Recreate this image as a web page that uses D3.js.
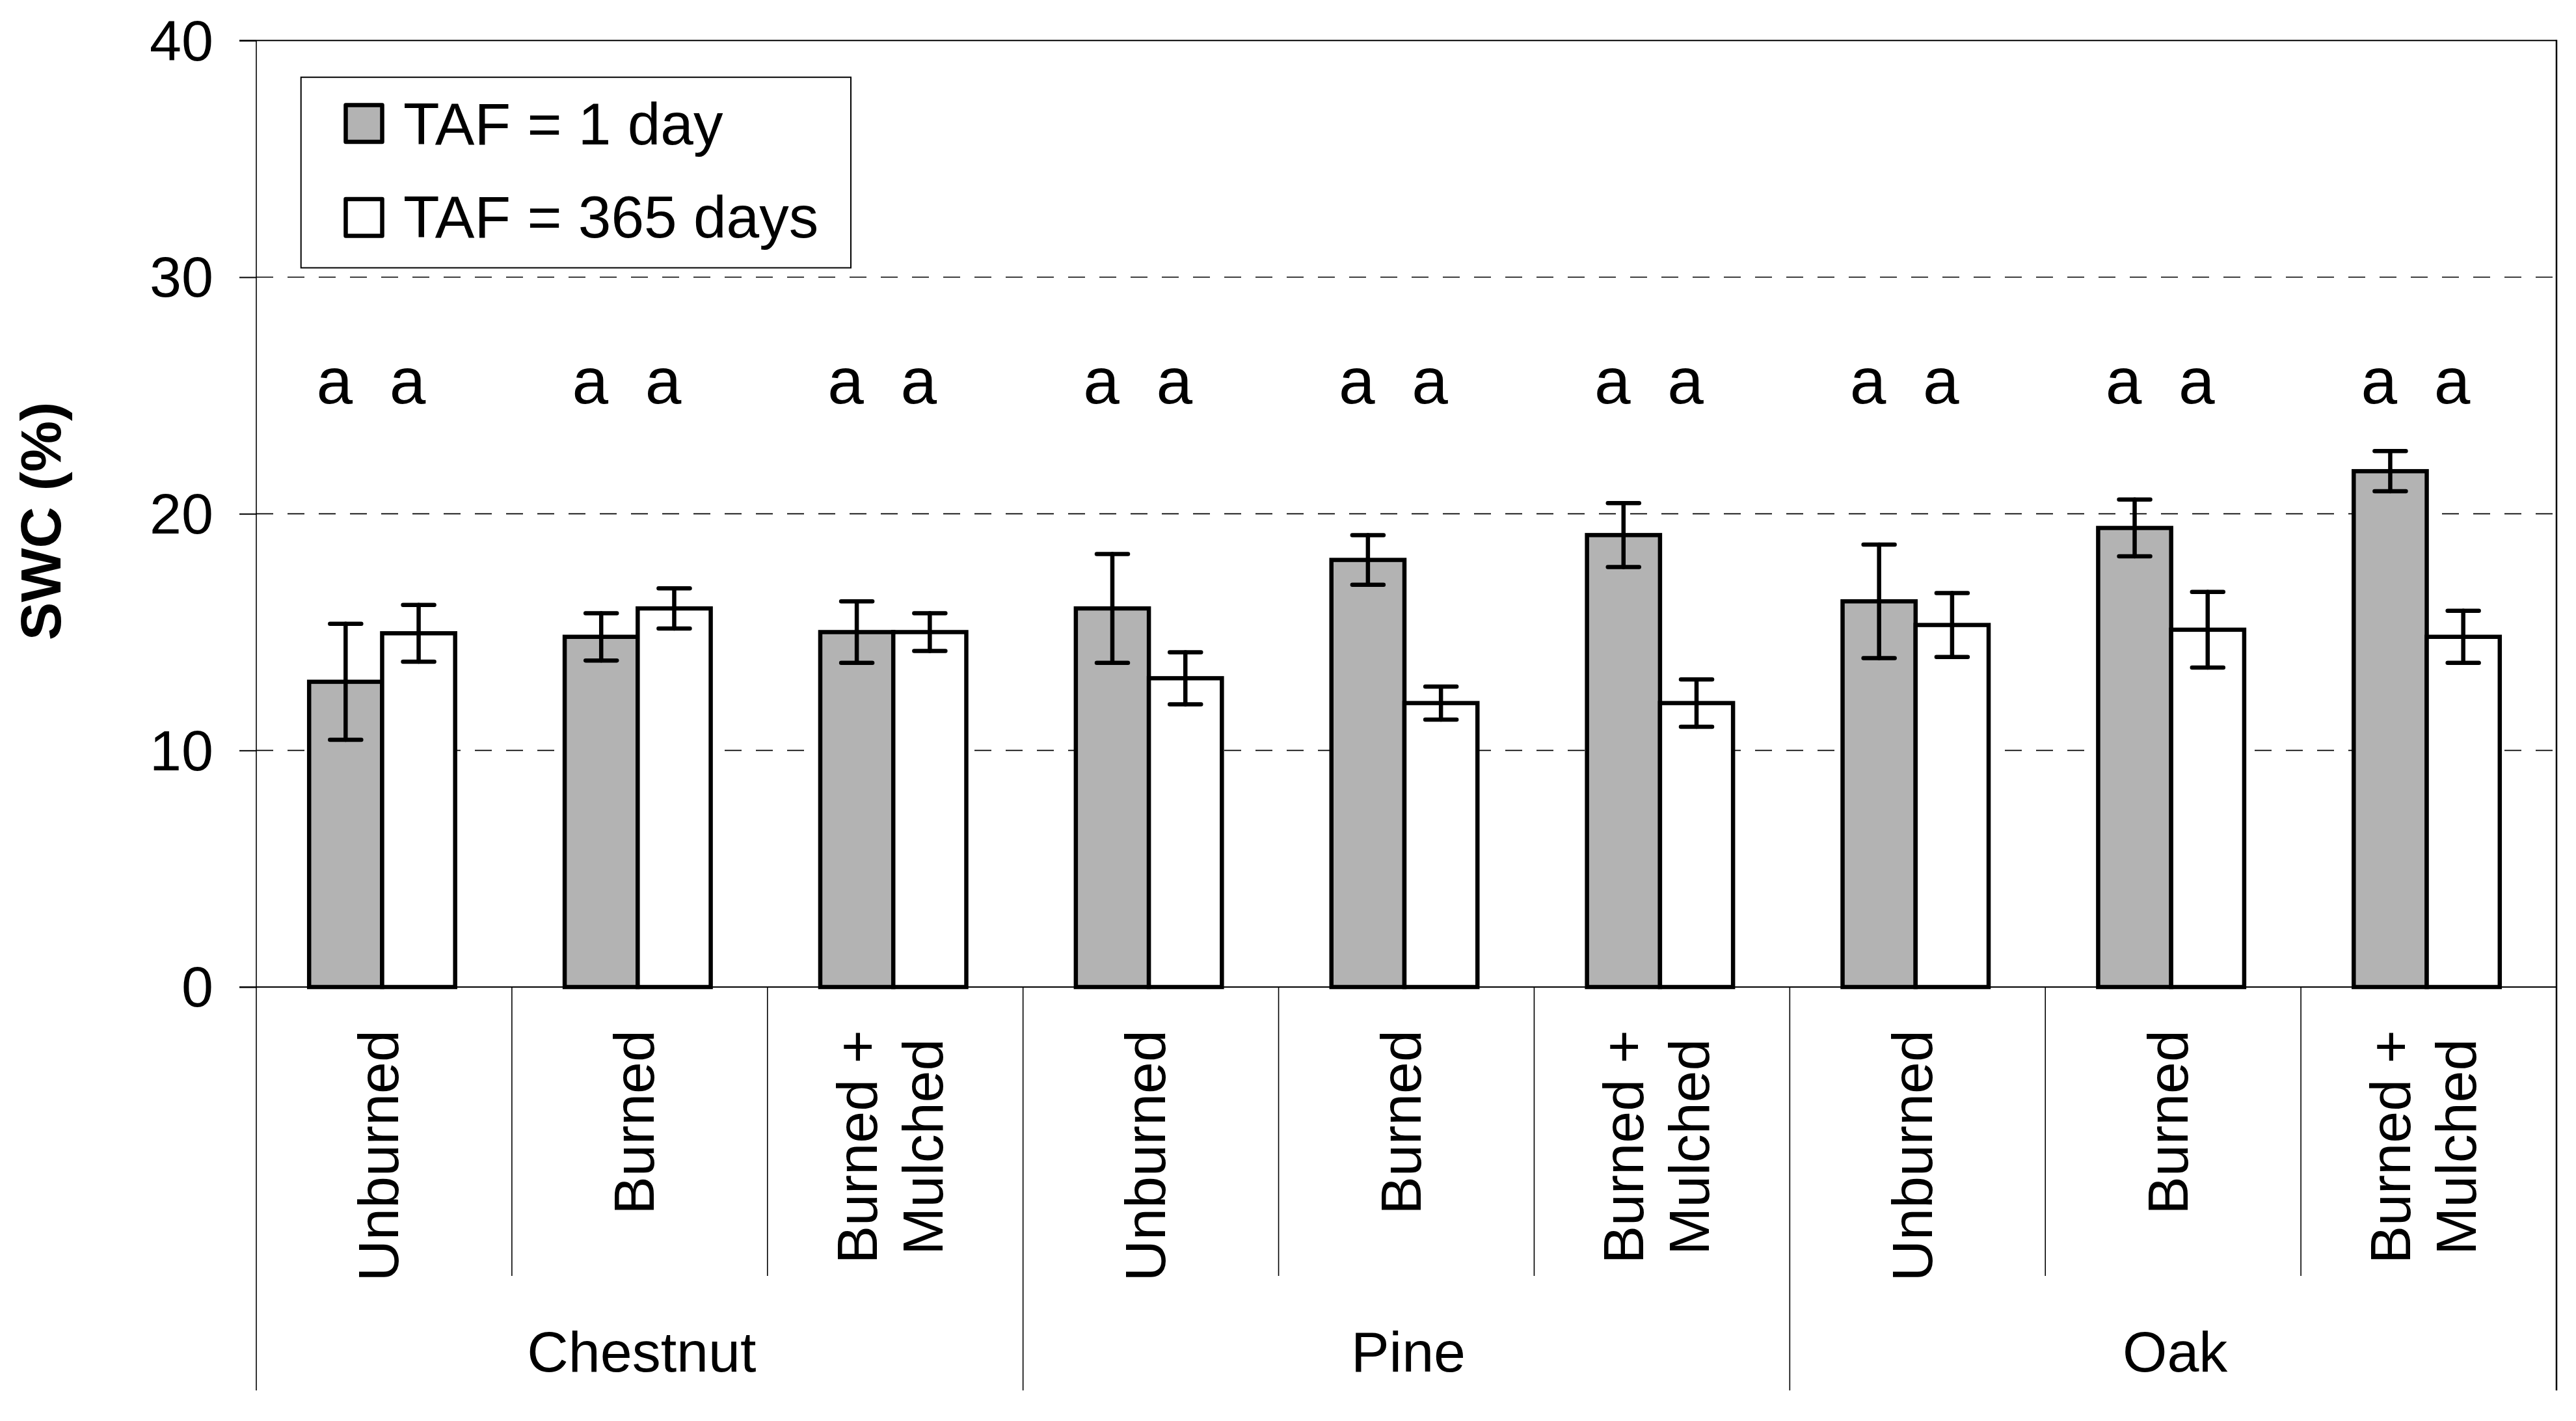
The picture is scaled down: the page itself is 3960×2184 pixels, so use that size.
<!DOCTYPE html>
<html>
<head>
<meta charset="utf-8">
<script src="https://cdn.jsdelivr.net/npm/d3@7"></script>
<style>
  html, body { margin: 0; padding: 0; background: #fff; }
  svg { display: block; }
  text { font-family: "Liberation Sans", Arial, Helvetica, sans-serif; fill: #000; }
</style>
</head>
<body>
<svg id="chart" width="3960" height="2184"></svg>
<script>
// ---------- DATA ----------
const groups = ["Chestnut", "Pine", "Oak"];
const treatments = [["Unburned"], ["Burned"], ["Burned +", "Mulched"]];
const seriesNames = ["TAF = 1 day", "TAF = 365 days"];
const taf1 = [12.9, 14.8, 15.0, 16.0, 18.05, 19.1, 16.3, 19.4, 21.8];
const taf1Err = [2.45, 1.0, 1.3, 2.3, 1.05, 1.35, 2.4, 1.2, 0.85];
const taf365 = [14.95, 16.0, 15.0, 13.05, 12.0, 12.0, 15.3, 15.1, 14.8];
const taf365Err = [1.2, 0.85, 0.8, 1.1, 0.7, 1.0, 1.35, 1.6, 1.1];
const letters1 = ["a", "a", "a", "a", "a", "a", "a", "a", "a"];
const letters365 = ["a", "a", "a", "a", "a", "a", "a", "a", "a"];
const yTicks = [0, 10, 20, 30, 40];
const yTitle = "SWC (%)";

// ---------- LAYOUT ----------
const pLeft = 394, pRight = 3930, pTop = 62.3, pBottom = 1517;
const catLineBottom = 1961, groupLineBottom = 2137;
const font = 88;

const svg = d3.select("#chart");
svg.append("rect").attr("width", 3960).attr("height", 2184).attr("fill", "#fff");

const cats = [];
groups.forEach((g, gi) => treatments.forEach((t, ti) => cats.push({ id: gi * 3 + ti, group: g, gi, ti, lines: t })));

const x = d3.scaleBand().domain(cats.map(d => d.id)).range([pLeft, pRight]).paddingInner(0).paddingOuter(0);
const y = d3.scaleLinear().domain([0, 40]).range([pBottom, pTop]);
const barW = x.bandwidth() / 3.5;
const xs = d3.scaleBand().domain([0, 1]).range([0, 2 * barW]);
const barOff = (x.bandwidth() - 2 * barW) / 2 - 3;

// gridlines (dashed) at 10,20,30
svg.append("g").selectAll("line").data(yTicks.filter(v => v > 0 && v < 40)).join("line")
  .attr("x1", pLeft).attr("x2", pRight)
  .attr("y1", d => y(d)).attr("y2", d => y(d))
  .attr("stroke", "#000").attr("stroke-width", 1.6)
  .attr("stroke-dasharray", "26,22");

// top border and right border
svg.append("line").attr("x1", pLeft - 26).attr("x2", pRight).attr("y1", y(40)).attr("y2", y(40))
  .attr("stroke", "#000").attr("stroke-width", 2);
svg.append("line").attr("x1", pRight).attr("x2", pRight).attr("y1", y(40) - 1).attr("y2", groupLineBottom)
  .attr("stroke", "#000").attr("stroke-width", 2.5);

// y axis via d3
const yAxis = d3.axisLeft(y).tickValues(yTicks).tickSize(26).tickPadding(40).tickFormat(d3.format("d"));
const yg = svg.append("g").attr("transform", `translate(${pLeft},0)`).call(yAxis);
yg.select(".domain").remove();
yg.selectAll(".tick line").attr("stroke", "#000").attr("stroke-width", 2);
yg.selectAll(".tick text").attr("font-size", font).attr("dy", "0.34em")
  .style("font-family", '"Liberation Sans", Arial, sans-serif');
svg.append("line").attr("x1", pLeft).attr("x2", pLeft).attr("y1", pTop).attr("y2", groupLineBottom)
  .attr("stroke", "#000").attr("stroke-width", 1.6);

// y title
svg.append("text")
  .attr("transform", `translate(93, ${801}) rotate(-90)`)
  .attr("text-anchor", "middle")
  .attr("font-size", font).attr("font-weight", "bold")
  .text(yTitle);

// bars
const series = [
  { vals: taf1, errs: taf1Err, letters: letters1, fill: "#b3b3b3" },
  { vals: taf365, errs: taf365Err, letters: letters365, fill: "#ffffff" }
];
const barsG = svg.append("g");
series.forEach((s, si) => {
  barsG.selectAll(null).data(cats).join("rect")
    .attr("x", d => x(d.id) + barOff + xs(si))
    .attr("y", d => y(s.vals[d.id]))
    .attr("width", xs.bandwidth())
    .attr("height", d => y(0) - y(s.vals[d.id]))
    .attr("fill", s.fill).attr("stroke", "#000").attr("stroke-width", 6.5)
    .attr("stroke-linejoin", "miter");
});
// error bars
const capHalf = 24;
series.forEach((s, si) => {
  const g = svg.append("g").attr("stroke", "#000").attr("stroke-width", 6.5).attr("stroke-linecap", "round");
  cats.forEach(d => {
    const cx = x(d.id) + barOff + xs(si) + xs.bandwidth() / 2;
    const v = s.vals[d.id], e = s.errs[d.id];
    g.append("line").attr("x1", cx).attr("x2", cx).attr("y1", y(v + e)).attr("y2", y(v - e));
    g.append("line").attr("x1", cx - capHalf).attr("x2", cx + capHalf).attr("y1", y(v + e)).attr("y2", y(v + e));
    g.append("line").attr("x1", cx - capHalf).attr("x2", cx + capHalf).attr("y1", y(v - e)).attr("y2", y(v - e));
  });
});
// significance letters
series.forEach((s, si) => {
  svg.append("g").selectAll("text").data(cats).join("text")
    .attr("x", d => x(d.id) + barOff + xs(si) + xs.bandwidth() / 2 - 17)
    .attr("y", 620)
    .attr("text-anchor", "middle")
    .attr("font-size", 100)
    .text(d => s.letters[d.id]);
});

// zero line
svg.append("line").attr("x1", pLeft - 26).attr("x2", pRight).attr("y1", y(0)).attr("y2", y(0))
  .attr("stroke", "#000").attr("stroke-width", 2.2);

// category separators
svg.append("g").selectAll("line").data(cats.slice(1)).join("line")
  .attr("x1", d => x(d.id)).attr("x2", d => x(d.id))
  .attr("y1", y(0)).attr("y2", d => d.ti === 0 ? groupLineBottom : catLineBottom)
  .attr("stroke", "#000").attr("stroke-width", 1.6);

// category labels (rotated)
const labelTop = 1583;
cats.forEach(d => {
  const cx = x(d.id) + x.bandwidth() / 2;
  const n = d.lines.length;
  const lh = 101;
  const g = svg.append("g");
  const texts = d.lines.map((ln, i) => {
    const base = cx - 10 + (i - (n - 1) / 2) * lh + 32;
    return g.append("text").attr("font-size", font).attr("text-anchor", "middle").text(ln)
      .attr("data-base", base);
  });
  const maxLen = d3.max(texts, t => t.node().getComputedTextLength());
  const cy = labelTop + maxLen / 2;
  texts.forEach(t => {
    const base = +t.attr("data-base");
    t.attr("transform", `translate(${base}, ${cy}) rotate(-90)`);
  });
});

// group labels
groups.forEach((g, gi) => {
  const x0 = x(gi * 3), x1 = x(gi * 3 + 2) + x.bandwidth();
  svg.append("text").attr("x", (x0 + x1) / 2 + 3).attr("y", 2108)
    .attr("text-anchor", "middle").attr("font-size", font).text(g);
});

// legend
const lg = svg.append("g");
lg.append("rect").attr("x", 462.7).attr("y", 118.7).attr("width", 1308 - 462.7).attr("height", 411.6 - 118.7)
  .attr("fill", "#fff").attr("stroke", "#000").attr("stroke-width", 2);
const legY = [161.5, 306];
const legBase = [222, 365];
series.forEach((s, si) => {
  lg.append("rect").attr("x", 531.5).attr("y", legY[si]).attr("width", 56).attr("height", 56.5)
    .attr("fill", s.fill).attr("stroke", "#000").attr("stroke-width", 6.5).attr("stroke-linejoin", "round");
  lg.append("text").attr("x", 620).attr("y", legBase[si]).attr("font-size", 91).text(seriesNames[si]);
});
</script>
</body>
</html>
